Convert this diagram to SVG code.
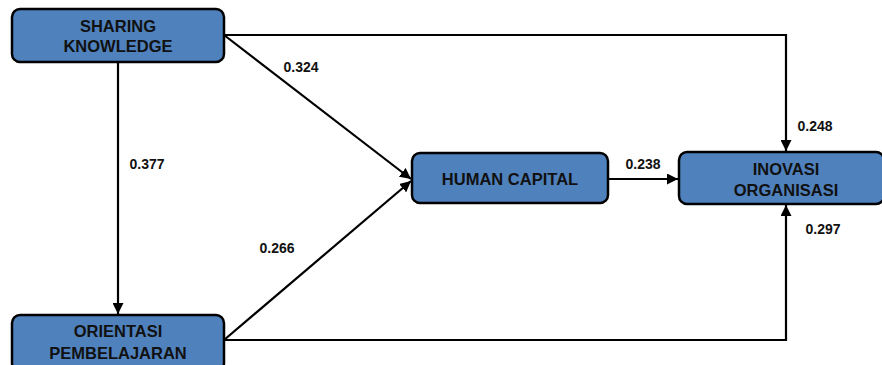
<svg xmlns="http://www.w3.org/2000/svg" width="882" height="365" viewBox="0 0 882 365">
<style>
.node{fill:#4F81BD;stroke:#000;stroke-width:2.5}
.nt{font-family:"Liberation Sans",Arial,sans-serif;font-weight:bold;font-size:16.5px;fill:#111;text-anchor:middle}
.lbl{font-family:"Liberation Sans",Arial,sans-serif;font-weight:bold;font-size:14px;fill:#111;text-anchor:middle}
.c{fill:none;stroke:#000;stroke-width:2.2}
</style>
<defs>
<marker id="ah" viewBox="0 0 10 10" refX="10" refY="5" markerWidth="5" markerHeight="5" orient="auto" markerUnits="strokeWidth">
<path d="M0,0 L10,5 L0,10 z" fill="#000"/>
</marker>
</defs>
<g id="connectors">
<path class="c" d="M224,35 H786 V151" marker-end="url(#ah)"/>
<path class="c" d="M224,35 L411,179" marker-end="url(#ah)"/>
<path class="c" d="M118,62 V314" marker-end="url(#ah)"/>
<path class="c" d="M224,340 L411,181" marker-end="url(#ah)"/>
<path class="c" d="M224,340 H786 V205" marker-end="url(#ah)"/>
<path class="c" d="M608,179 H678" marker-end="url(#ah)"/>
<text class="lbl" x="301" y="72">0.324</text>
<text class="lbl" x="147" y="169">0.377</text>
<text class="lbl" x="277" y="253">0.266</text>
<text class="lbl" x="643" y="169">0.238</text>
<text class="lbl" x="815" y="131">0.248</text>
<text class="lbl" x="823" y="234">0.297</text>
</g>
<g id="sharing-knowledge">
<rect class="node" x="12" y="9" width="212" height="53" rx="8"/>
<text class="nt" x="118" y="32">SHARING</text>
<text class="nt" x="118" y="52">KNOWLEDGE</text>
</g>
<g id="orientasi-pembelajaran">
<rect class="node" x="12" y="315" width="212" height="56" rx="8"/>
<text class="nt" x="118" y="337">ORIENTASI</text>
<text class="nt" x="118" y="359">PEMBELAJARAN</text>
</g>
<g id="human-capital">
<rect class="node" x="412" y="153" width="196" height="50" rx="8"/>
<text class="nt" x="510" y="185">HUMAN CAPITAL</text>
</g>
<g id="inovasi-organisasi">
<rect class="node" x="679" y="152" width="205" height="52" rx="8"/>
<text class="nt" x="786" y="175">INOVASI</text>
<text class="nt" x="786" y="196">ORGANISASI</text>
</g>
</svg>
